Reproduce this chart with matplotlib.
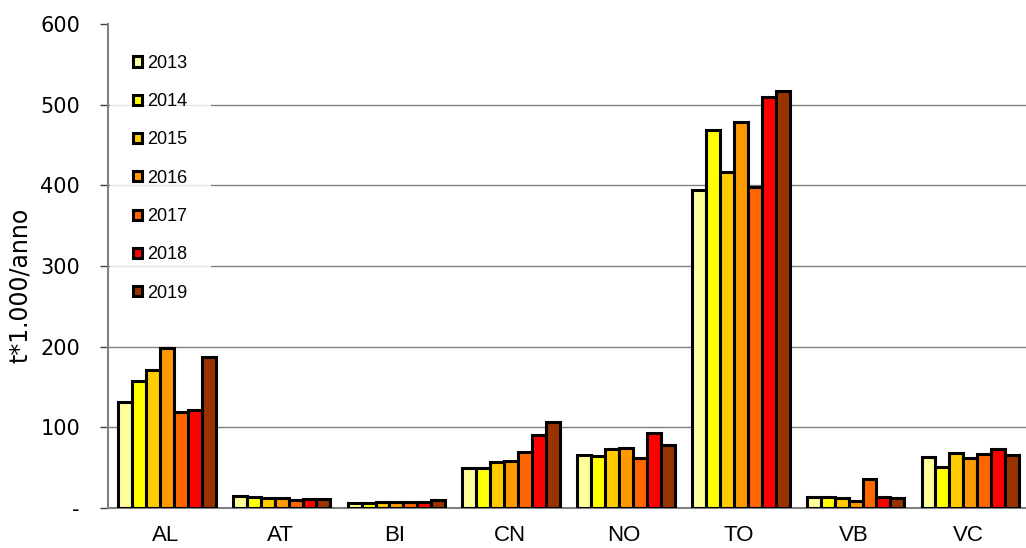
import matplotlib.pyplot as plt
import numpy as np

provinces = ['AL', 'AT', 'BI', 'CN', 'NO', 'TO', 'VB', 'VC']
years = ['2013', '2014', '2015', '2016', '2017', '2018', '2019']
colors = ['#FFFF99', '#FFFF00', '#FFCC00', '#FF9900', '#FF6600', '#FF0000', '#993300']

v2013 = [131, 15, 6, 50, 66, 394, 14, 63]
v2014 = [157, 14, 6, 50, 64, 469, 14, 51]
v2015 = [171, 12, 7, 57, 73, 417, 12, 68]
v2016 = [199, 12, 8, 58, 75, 479, 9, 62]
v2017 = [119, 10, 8, 70, 62, 398, 36, 67]
v2018 = [121, 11, 8, 90, 93, 510, 14, 73]
v2019 = [187, 11, 10, 107, 78, 517, 12, 66]
series = [v2013, v2014, v2015, v2016, v2017, v2018, v2019]

plt.rcParams['font.family'] = ['Liberation Sans', 'DejaVu Sans']

fig = plt.figure(figsize=(10.26, 5.48), dpi=100)
ax = fig.add_axes([0.105, 0.073, 0.895, 0.883])

x = np.arange(len(provinces))
w = 0.85 / len(series)
for i, vals in enumerate(series):
    ax.bar(x - 0.41 + w * (i + 0.5), vals, w, color=colors[i],
           edgecolor='black', linewidth=2.2, label=years[i], zorder=3)

ax.set_xlim(-0.5, 7.5)
ax.set_ylim(0, 600)
ax.set_yticks(range(0, 601, 100))
ax.set_yticklabels(['-', '100', '200', '300', '400', '500', '600'],
                   fontsize=15, family='DejaVu Sans')
ax.set_xticks(x)
ax.set_xticklabels(provinces, fontsize=16)
ax.tick_params(axis='x', length=0, pad=12)
ax.tick_params(axis='y', length=6, width=1, color='#404040', pad=14)
for yv in range(100, 501, 100):
    ax.axhline(yv, color='#808080', linewidth=1, zorder=1)
for s in ['top', 'right']:
    ax.spines[s].set_visible(False)
ax.spines['left'].set_color('#808080')
ax.spines['left'].set_linewidth(1.5)
ax.spines['bottom'].set_color('#808080')
ax.spines['bottom'].set_linewidth(1.5)
ax.set_ylabel('t*1.000/anno', fontsize=17, family='DejaVu Sans')
ax.yaxis.set_label_coords(-0.083, 0.46)

leg = ax.legend(loc='upper left', bbox_to_anchor=(0.002, 0.985), fontsize=13,
                labelspacing=1.18, handlelength=0.5, handleheight=0.5,
                handletextpad=0.3, borderpad=1.3, frameon=True, fancybox=False,
                borderaxespad=0)
leg.get_frame().set_facecolor('white')
leg.get_frame().set_edgecolor('none')
leg.set_zorder(5)

fig.savefig('out.png', dpi=100)
